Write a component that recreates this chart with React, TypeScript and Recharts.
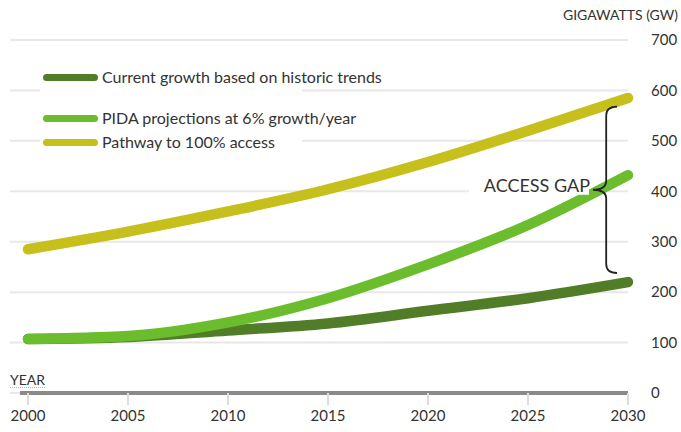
import React from "react";
import {
  LineChart,
  Line,
  XAxis,
  YAxis,
  CartesianGrid,
  ReferenceLine,
  ReferenceArea,
} from "recharts";

const years = [2000, 2005, 2010, 2015, 2020, 2025, 2030];
const currentGrowth = [107, 111, 124, 138, 163, 188, 220];
const pidaProjection = [107, 113, 140, 188, 255, 333, 432];
const fullAccess = [285, 320, 360, 404, 458, 520, 585];
const yTicks = [0, 100, 200, 300, 400, 500, 600, 700];

// access gap brace: from top of the "current" line up to the "pathway" line
const gapLow = 238;
const gapHigh = 568;

const data = years.map((year, i) => ({
  year,
  current: currentGrowth[i],
  pida: pidaProjection[i],
  access: fullAccess[i],
}));

const COLORS = {
  current: "#527d28",
  pida: "#6cbd2e",
  access: "#c6bf1c",
};

const legendItems = [
  { name: "Current growth based on historic trends", color: COLORS.current, top: 69 },
  { name: "PIDA projections at 6% growth/year", color: COLORS.pida, top: 110 },
  { name: "Pathway to 100% access", color: COLORS.access, top: 134 },
];

const FONT = "Lato, 'Open Sans', sans-serif";
const MARGIN = { top: 40, right: 0, bottom: 0, left: 10 };
const X_DOMAIN: [number, number] = [1999.1, 2030];

// curly brace pointing left, drawn inside the reference area box
const Brace = (props: any) => {
  const { x, y, width, height } = props;
  const right = x + width;
  const xm = x + width * 0.55;
  const mid = y + height / 2;
  const bottom = y + height;
  const d = `M${right},${y} Q${xm},${y} ${xm},${y + 9} L${xm},${mid - 9} Q${xm},${mid} ${x},${mid} Q${xm},${mid} ${xm},${mid + 9} L${xm},${bottom - 9} Q${xm},${bottom} ${right},${bottom}`;
  return (
    <g>
      <rect x={x - 124} y={mid - 13} width={120} height={18} fill="#fff" />
      <text
        x={x - 3}
        y={mid + 2}
        textAnchor="end"
        fontSize={18}
        fill="#333"
        fontFamily={FONT}
      >
        ACCESS GAP
      </text>
      <path d={d} fill="none" stroke="#222" strokeWidth={1.8} />
    </g>
  );
};

export default function App() {
  return (
    <div
      style={{
        position: "absolute",
        left: 0,
        top: 0,
        width: 681,
        height: 432,
        background: "#fff",
        fontFamily: FONT,
      }}
    >
      <div
        style={{
          position: "absolute",
          right: 3,
          top: 6,
          fontSize: 14,
          color: "#333",
        }}
      >
        GIGAWATTS (GW)
      </div>
      <LineChart width={681} height={432} data={data} margin={MARGIN}>
        <CartesianGrid vertical={false} stroke="#e8e8e8" strokeWidth={2} />
        <XAxis
          dataKey="year"
          type="number"
          domain={X_DOMAIN}
          ticks={years}
          axisLine={false}
          tickSize={12}
          tickMargin={5}
          tickLine={{ stroke: "#dcdcdc", strokeWidth: 2 }}
          tick={{ fontSize: 15, fill: "#333", fontFamily: FONT }}
          height={39}
        />
        <YAxis
          orientation="right"
          domain={[0, 700]}
          ticks={yTicks}
          axisLine={false}
          tickLine={false}
          tickMargin={17}
          width={53}
          tick={{ fontSize: 15, fill: "#333", fontFamily: FONT, textAnchor: "start" }}
        />
        <ReferenceLine
          segment={[
            { x: 1999.6, y: 0 },
            { x: 2030, y: 0 },
          ]}
          stroke="#8a8a8a"
          strokeWidth={4}
          ifOverflow="visible"
        />
        <Line
          type="monotone"
          dataKey="current"
          stroke={COLORS.current}
          strokeWidth={10.5}
          strokeLinecap="round"
          dot={false}
          isAnimationActive={false}
        />
        <Line
          type="monotone"
          dataKey="pida"
          stroke={COLORS.pida}
          strokeWidth={10.5}
          strokeLinecap="round"
          dot={false}
          isAnimationActive={false}
        />
        <Line
          type="monotone"
          dataKey="access"
          stroke={COLORS.access}
          strokeWidth={10.5}
          strokeLinecap="round"
          dot={false}
          isAnimationActive={false}
        />
      </LineChart>

      {/* second chart with the same axes, only for the annotation so it sits above the lines */}
      <div style={{ position: "absolute", left: 0, top: 0 }}>
        <LineChart width={681} height={432} data={data} margin={MARGIN}>
          <XAxis
            dataKey="year"
            type="number"
            domain={X_DOMAIN}
            ticks={years}
            axisLine={false}
            tickLine={false}
            tick={false}
            height={39}
          />
          <YAxis
            orientation="right"
            domain={[0, 700]}
            ticks={yTicks}
            axisLine={false}
            tickLine={false}
            tick={false}
            width={53}
          />
          <Line
            dataKey="access"
            stroke="none"
            dot={false}
            activeDot={false}
            isAnimationActive={false}
          />
          <ReferenceArea
            x1={2028.25}
            x2={2029.45}
            y1={gapLow}
            y2={gapHigh}
            ifOverflow="visible"
            shape={<Brace />}
          />
        </LineChart>
      </div>

      <div
        style={{
          position: "absolute",
          left: 40,
          top: 60,
          width: 262,
          height: 92,
          background: "#fff",
        }}
      />
      {legendItems.map((item) => (
        <div
          key={item.name}
          style={{
            position: "absolute",
            left: 43,
            top: item.top,
            display: "flex",
            alignItems: "center",
            gap: 4,
            fontSize: 16,
            color: "#333",
            whiteSpace: "nowrap",
            lineHeight: "16px",
          }}
        >
          <span
            style={{
              display: "inline-block",
              width: 55,
              height: 7,
              borderRadius: 4,
              background: item.color,
            }}
          />
          <span>{item.name}</span>
        </div>
      ))}
      <div
        style={{
          position: "absolute",
          left: 10,
          top: 372,
          fontSize: 14,
          color: "#333",
          borderBottom: "1px dotted #bbb",
          lineHeight: "15px",
        }}
      >
        YEAR
      </div>
    </div>
  );
}
